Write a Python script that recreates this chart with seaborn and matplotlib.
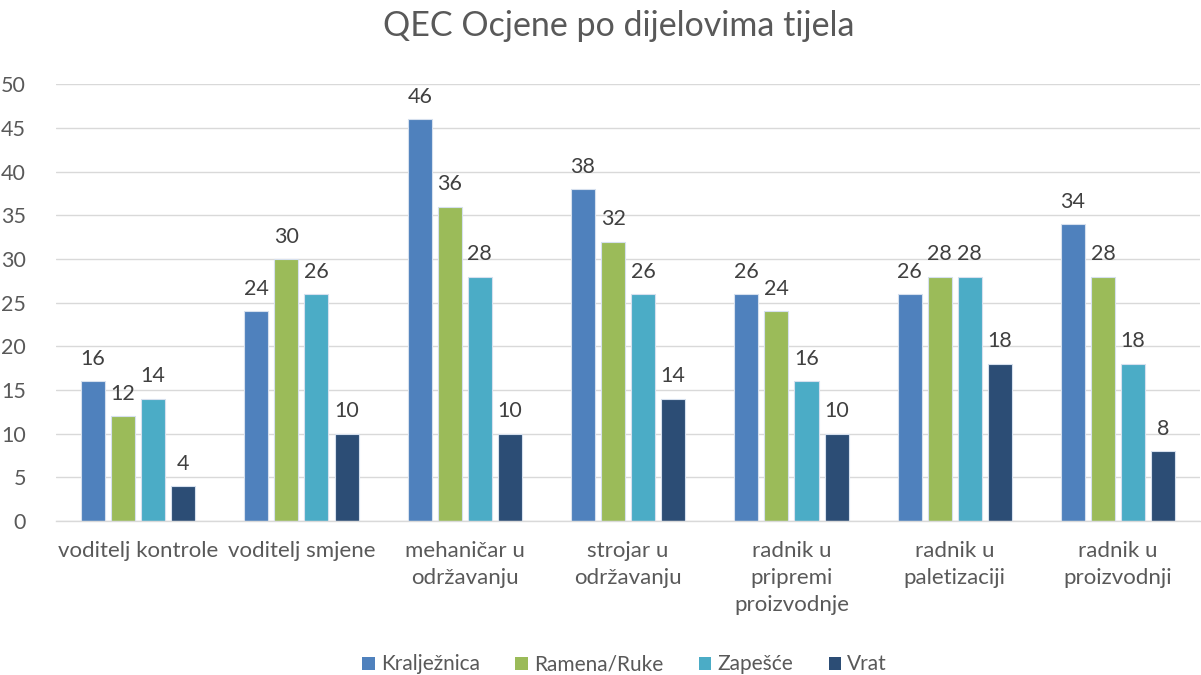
import matplotlib
matplotlib.use("Agg")
import matplotlib.pyplot as plt
import seaborn as sns
import pandas as pd
from matplotlib.patches import Patch

categories = ["voditelj kontrole", "voditelj smjene", "mehaničar u\nodržavanju",
              "strojar u\nodržavanju", "radnik u\npripremi\nproizvodnje",
              "radnik u\npaletizaciji", "radnik u\nproizvodnji"]
series = ["Kralježnica", "Ramena/Ruke", "Zapešće", "Vrat"]
kraljeznica = [16, 24, 46, 38, 26, 26, 34]
ramena_ruke = [12, 30, 36, 32, 24, 28, 28]
zapesce = [14, 26, 28, 26, 16, 28, 18]
vrat = [4, 10, 10, 14, 10, 18, 8]
colors = ["#4F81BD", "#9BBB59", "#4BACC6", "#2C4D75"]

rows = []
for name, vals in zip(series, [kraljeznica, ramena_ruke, zapesce, vrat]):
    for cat, v in zip(categories, vals):
        rows.append({"kategorija": cat, "serija": name, "vrijednost": v})
df = pd.DataFrame(rows)

sns.set_theme(style="white")
plt.rcParams["font.family"] = ["Lato", "DejaVu Sans"]
text_color = "#595959"

fig = plt.figure(figsize=(12.01, 6.75), dpi=100)
ax = fig.add_axes([0.047, 0.228, 0.952, 0.647])

sns.barplot(data=df, x="kategorija", y="vrijednost", hue="serija",
            order=categories, hue_order=series, palette=colors, saturation=1,
            width=0.736, gap=0.2, edgecolor="#D6E0EE", linewidth=0.8,
            errorbar=None, legend=False, ax=ax)

for cont in ax.containers:
    ax.bar_label(cont, padding=9, fontsize=15.5, color="#404040")

ax.set_ylim(0, 50)
ax.set_yticks(range(0, 51, 5))
ax.set_xlim(-0.5, len(categories) - 0.5)
ax.yaxis.grid(True, color="#D9D9D9", linewidth=1)
ax.set_axisbelow(True)
for s in ["top", "right", "left"]:
    ax.spines[s].set_visible(False)
ax.spines["bottom"].set_color("#D9D9D9")
ax.spines["bottom"].set_linewidth(1)
ax.tick_params(axis="x", length=0, labelsize=16, colors=text_color, pad=14)
ax.tick_params(axis="y", length=0, labelsize=15.5, colors=text_color, pad=22)
for lbl in ax.get_xticklabels():
    lbl.set_linespacing(1.45)
ax.set_xlabel("")
ax.set_ylabel("")

fig.suptitle("QEC Ocjene po dijelovima tijela", fontsize=24.5, color=text_color,
             y=0.985, x=0.515)

handles = [Patch(facecolor=c, edgecolor="none") for c in colors]
fig.legend(handles, series, loc="lower center", bbox_to_anchor=(0.52, -0.027),
           ncol=4, frameon=False, fontsize=15, labelcolor=text_color,
           handlelength=0.6, handleheight=0.6, handletextpad=0.3, columnspacing=1.7)

fig.savefig("out.png", dpi=100)
